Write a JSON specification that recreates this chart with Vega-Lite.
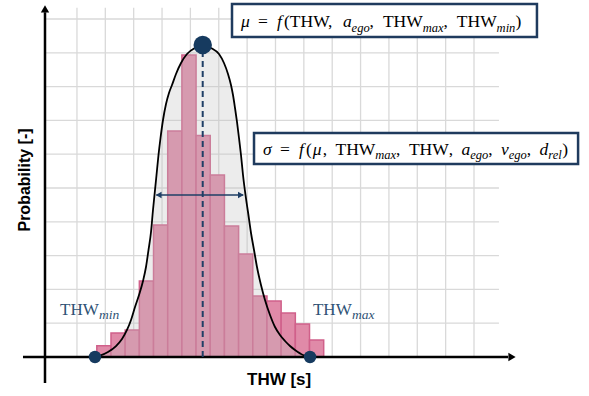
{
  "$schema": "https://vega.github.io/schema/vega-lite/v6.json",
  "width": 589,
  "height": 396,
  "padding": 0,
  "autosize": {"type": "none"},
  "background": "white",
  "config": {"view": {"stroke": null}},
  "datasets": {
    "vgrid": [{"g":1,"lo":0,"hi":10.33},{"g":2,"lo":0,"hi":10.33},{"g":3,"lo":0,"hi":10.33},{"g":4,"lo":0,"hi":10.33},{"g":5,"lo":0,"hi":10.33},{"g":6,"lo":0,"hi":10.33},{"g":7,"lo":0,"hi":10.33},{"g":8,"lo":0,"hi":10.33},{"g":9,"lo":0,"hi":10.33},{"g":10,"lo":0,"hi":10.33},{"g":11,"lo":0,"hi":10.33},{"g":12,"lo":0,"hi":10.33},{"g":13,"lo":0,"hi":10.33},{"g":14,"lo":0,"hi":10.33},{"g":15,"lo":0,"hi":10.33}],
    "hgrid": [{"g":1,"lo":-0.09,"hi":15.88},{"g":2,"lo":-0.09,"hi":15.88},{"g":3,"lo":-0.09,"hi":15.88},{"g":4,"lo":-0.09,"hi":15.88},{"g":5,"lo":-0.09,"hi":15.88},{"g":6,"lo":-0.09,"hi":15.88},{"g":7,"lo":-0.09,"hi":15.88},{"g":8,"lo":-0.09,"hi":15.88},{"g":9,"lo":-0.09,"hi":15.88},{"g":10,"lo":-0.09,"hi":15.88}],
    "hist": [
      {"lo":1.7,"hi":2.2,"p":0.334,"b":0},
      {"lo":2.2,"hi":2.7,"p":0.710,"b":0},
      {"lo":2.7,"hi":3.2,"p":0.799,"b":0},
      {"lo":3.2,"hi":3.7,"p":2.249,"b":0},
      {"lo":3.7,"hi":4.2,"p":3.905,"b":0},
      {"lo":4.2,"hi":4.7,"p":6.686,"b":0},
      {"lo":4.7,"hi":5.2,"p":8.935,"b":0},
      {"lo":5.2,"hi":5.7,"p":6.55,"b":0},
      {"lo":5.7,"hi":6.2,"p":5.385,"b":0},
      {"lo":6.2,"hi":6.7,"p":3.876,"b":0},
      {"lo":6.7,"hi":7.2,"p":3.047,"b":0},
      {"lo":7.2,"hi":7.7,"p":1.805,"b":0},
      {"lo":7.7,"hi":8.2,"p":1.657,"b":0},
      {"lo":8.2,"hi":8.7,"p":1.302,"b":0},
      {"lo":8.7,"hi":9.2,"p":0.976,"b":0},
      {"lo":9.2,"hi":9.7,"p":0.503,"b":0}
    ],
    "curve": [
      {"thw":1.107,"p":0},{"thw":1.460,"p":0.006},{"thw":1.812,"p":0.044},{"thw":2.094,"p":0.148},{"thw":2.377,"p":0.325},{"thw":2.588,"p":0.533},{"thw":2.764,"p":0.799},{"thw":2.906,"p":1.095},{"thw":3.047,"p":1.479},{"thw":3.188,"p":1.834},{"thw":3.329,"p":2.249},{"thw":3.434,"p":2.663},{"thw":3.523,"p":3.166},{"thw":3.611,"p":3.698},{"thw":3.681,"p":4.349},{"thw":3.734,"p":4.793},{"thw":3.805,"p":5.385},{"thw":3.875,"p":5.976},{"thw":3.946,"p":6.479},{"thw":4.034,"p":7.012},{"thw":4.140,"p":7.485},{"thw":4.245,"p":7.811},{"thw":4.351,"p":8.047},{"thw":4.492,"p":8.373},{"thw":4.669,"p":8.698},{"thw":4.880,"p":8.964},{"thw":5.127,"p":9.127},{"thw":5.444,"p":9.201},{"thw":5.761,"p":9.127},{"thw":6.008,"p":8.964},{"thw":6.184,"p":8.698},{"thw":6.326,"p":8.373},{"thw":6.431,"p":8.047},{"thw":6.502,"p":7.751},{"thw":6.573,"p":7.367},{"thw":6.643,"p":6.953},{"thw":6.714,"p":6.479},{"thw":6.784,"p":5.976},{"thw":6.855,"p":5.385},{"thw":6.943,"p":4.793},{"thw":7.031,"p":4.290},{"thw":7.137,"p":3.669},{"thw":7.243,"p":3.166},{"thw":7.348,"p":2.663},{"thw":7.489,"p":2.130},{"thw":7.630,"p":1.686},{"thw":7.807,"p":1.243},{"thw":7.983,"p":0.888},{"thw":8.159,"p":0.651},{"thw":8.336,"p":0.473},{"thw":8.512,"p":0.325},{"thw":8.688,"p":0.207},{"thw":8.970,"p":0.059},{"thw":9.217,"p":0.006},{"thw":9.499,"p":0}
    ],
    "axislines": [{"x0":-0.903,"x1":16.2,"y0":0,"y1":0},{"x0":-0.127,"x1":-0.127,"y0":-0.77,"y1":10.2}],
    "axisup": [{"x":-0.127,"y":10.296}],
    "axisright": [{"x":16.34,"y":0}],
    "meanline": [{"x0":5.434,"x1":5.434,"y0":0,"y1":9.2}],
    "spread": [{"x0":3.80,"x1":6.86,"y0":4.793,"y1":4.793}],
    "spreadleft": [{"x":3.88,"y":4.793}],
    "spreadright": [{"x":6.78,"y":4.793}],
    "upright": [
      {"t":"=","x":7.384,"y":9.749},{"t":"(THW,","x":8.300,"y":9.749},{"t":",","x":11.319,"y":9.749},{"t":"THW","x":11.788,"y":9.749},{"t":",","x":13.925,"y":9.749},{"t":"THW","x":14.394,"y":9.749},{"t":")","x":16.460,"y":9.749},
      {"t":"=","x":8.160,"y":5.976},{"t":"(","x":9.073,"y":5.976},{"t":",","x":9.665,"y":5.976},{"t":"THW","x":10.116,"y":5.976},{"t":",","x":12.253,"y":5.976},{"t":"THW","x":12.705,"y":5.976},{"t":",","x":14.108,"y":5.976},{"t":",","x":15.503,"y":5.976},{"t":",","x":16.862,"y":5.976},{"t":")","x":18.112,"y":5.976}
    ],
    "italic": [
      {"t":"μ","x":6.784,"y":9.749},{"t":"f","x":8.054,"y":9.749},{"t":"a","x":10.377,"y":9.749},
      {"t":"σ","x":7.560,"y":5.976},{"t":"f","x":8.826,"y":5.976},{"t":"μ","x":9.312,"y":5.976},{"t":"a","x":14.559,"y":5.976},{"t":"v","x":15.952,"y":5.976},{"t":"d","x":17.313,"y":5.976}
    ],
    "sub": [
      {"t":"ego","x":10.684,"y":9.630},{"t":"max","x":13.191,"y":9.630},{"t":"min","x":15.797,"y":9.630},
      {"t":"max","x":11.520,"y":5.858},{"t":"ego","x":14.868,"y":5.858},{"t":"ego","x":16.227,"y":5.858},{"t":"rel","x":17.622,"y":5.858}
    ],
    "labmain": [{"t":"THW","x":0.402,"y":1.243},{"t":"THW","x":9.322,"y":1.243}],
    "labsub": [{"t":"min","x":1.777,"y":1.124},{"t":"max","x":10.698,"y":1.124}],
    "ytitle": [{"t":"Probability  [-]","x":-0.832,"y":5.237}],
    "xtitle": [{"t":"THW [s]","x":8.128,"y":-0.68}],
    "dots": [{"x":5.434,"y":9.23}],
    "enddots": [{"x":1.636,"y":0},{"x":9.218,"y":0}],
    "boxes": [{"x0":6.467,"x1":17.22,"y0":9.467,"y1":10.44},{"x0":7.243,"x1":18.67,"y0":5.71,"y1":6.627}]
  },
  "layer": [
    {
      "data": {"name": "vgrid"},
      "mark": {"type": "rule", "color": "#d9d9d9", "strokeWidth": 1.3},
      "encoding": {
        "x": {"field": "g", "type": "quantitative", "scale": {"domain": [-1.7137, 19.055], "nice": false, "zero": false}, "axis": null},
        "y": {"field": "lo", "type": "quantitative", "scale": {"domain": [-1.1538, 10.562], "nice": false, "zero": false}, "axis": null},
        "y2": {"field": "hi"}
      }
    },
    {
      "data": {"name": "hgrid"},
      "mark": {"type": "rule", "color": "#d9d9d9", "strokeWidth": 1.3},
      "encoding": {
        "y": {"field": "g", "type": "quantitative", "axis": null},
        "x": {"field": "lo", "type": "quantitative", "axis": null},
        "x2": {"field": "hi"}
      }
    },
    {
      "data": {"name": "hist"},
      "mark": {"type": "rect", "fill": "#e08aa8", "stroke": "#d0608a", "strokeWidth": 1.5},
      "encoding": {
        "x": {"field": "lo", "type": "quantitative", "axis": null},
        "x2": {"field": "hi"},
        "y": {"field": "b", "type": "quantitative", "axis": null},
        "y2": {"field": "p"}
      }
    },
    {
      "data": {"name": "curve"},
      "mark": {"type": "area", "color": "#bfbfbf", "opacity": 0.3, "interpolate": "monotone"},
      "encoding": {
        "x": {"field": "thw", "type": "quantitative", "axis": null},
        "y": {"field": "p", "type": "quantitative", "axis": null}
      }
    },
    {
      "data": {"name": "curve"},
      "mark": {"type": "line", "color": "#000000", "strokeWidth": 1.8, "interpolate": "monotone"},
      "encoding": {
        "x": {"field": "thw", "type": "quantitative", "axis": null},
        "y": {"field": "p", "type": "quantitative", "axis": null}
      }
    },
    {
      "data": {"name": "axislines"},
      "mark": {"type": "rule", "color": "#000000", "strokeWidth": 2.5},
      "encoding": {
        "x": {"field": "x0", "type": "quantitative", "axis": null}, "x2": {"field": "x1"},
        "y": {"field": "y0", "type": "quantitative", "axis": null}, "y2": {"field": "y1"}
      }
    },
    {
      "data": {"name": "axisup"},
      "mark": {"type": "point", "shape": "triangle-up", "filled": true, "color": "#000000", "size": 70, "opacity": 1},
      "encoding": {"x": {"field": "x", "type": "quantitative", "axis": null}, "y": {"field": "y", "type": "quantitative", "axis": null}}
    },
    {
      "data": {"name": "axisright"},
      "mark": {"type": "point", "shape": "triangle-right", "filled": true, "color": "#000000", "size": 70, "opacity": 1},
      "encoding": {"x": {"field": "x", "type": "quantitative", "axis": null}, "y": {"field": "y", "type": "quantitative", "axis": null}}
    },
    {
      "data": {"name": "meanline"},
      "mark": {"type": "rule", "color": "#1f3f66", "strokeWidth": 2, "strokeDash": [6, 4]},
      "encoding": {
        "x": {"field": "x0", "type": "quantitative", "axis": null}, "x2": {"field": "x1"},
        "y": {"field": "y0", "type": "quantitative", "axis": null}, "y2": {"field": "y1"}
      }
    },
    {
      "data": {"name": "spread"},
      "mark": {"type": "rule", "color": "#1f3f66", "strokeWidth": 1.6},
      "encoding": {
        "x": {"field": "x0", "type": "quantitative", "axis": null}, "x2": {"field": "x1"},
        "y": {"field": "y0", "type": "quantitative", "axis": null}, "y2": {"field": "y1"}
      }
    },
    {
      "data": {"name": "spreadleft"},
      "mark": {"type": "point", "shape": "triangle-left", "filled": true, "color": "#1f3f66", "size": 45, "opacity": 1},
      "encoding": {"x": {"field": "x", "type": "quantitative", "axis": null}, "y": {"field": "y", "type": "quantitative", "axis": null}}
    },
    {
      "data": {"name": "spreadright"},
      "mark": {"type": "point", "shape": "triangle-right", "filled": true, "color": "#1f3f66", "size": 45, "opacity": 1},
      "encoding": {"x": {"field": "x", "type": "quantitative", "axis": null}, "y": {"field": "y", "type": "quantitative", "axis": null}}
    },
    {
      "data": {"name": "dots"},
      "mark": {"type": "circle", "color": "#163a5f", "size": 340, "opacity": 1},
      "encoding": {"x": {"field": "x", "type": "quantitative", "axis": null}, "y": {"field": "y", "type": "quantitative", "axis": null}}
    },
    {
      "data": {"name": "enddots"},
      "mark": {"type": "circle", "color": "#163a5f", "size": 155, "opacity": 1},
      "encoding": {"x": {"field": "x", "type": "quantitative", "axis": null}, "y": {"field": "y", "type": "quantitative", "axis": null}}
    },
    {
      "data": {"name": "boxes"},
      "mark": {"type": "rect", "fill": "#ffffff", "stroke": "#1f3b5e", "strokeWidth": 2.5},
      "encoding": {
        "x": {"field": "x0", "type": "quantitative", "axis": null}, "x2": {"field": "x1"},
        "y": {"field": "y0", "type": "quantitative", "axis": null}, "y2": {"field": "y1"}
      }
    },
    {
      "data": {"name": "upright"},
      "mark": {"type": "text", "font": "Liberation Serif", "fontSize": 17.5, "align": "left", "baseline": "alphabetic", "color": "#000000"},
      "encoding": {"x": {"field": "x", "type": "quantitative", "axis": null}, "y": {"field": "y", "type": "quantitative", "axis": null}, "text": {"field": "t", "type": "nominal"}}
    },
    {
      "data": {"name": "italic"},
      "mark": {"type": "text", "font": "Liberation Serif", "fontStyle": "italic", "fontSize": 17.5, "align": "left", "baseline": "alphabetic", "color": "#000000"},
      "encoding": {"x": {"field": "x", "type": "quantitative", "axis": null}, "y": {"field": "y", "type": "quantitative", "axis": null}, "text": {"field": "t", "type": "nominal"}}
    },
    {
      "data": {"name": "sub"},
      "mark": {"type": "text", "font": "Liberation Serif", "fontStyle": "italic", "fontSize": 12.5, "align": "left", "baseline": "alphabetic", "color": "#000000"},
      "encoding": {"x": {"field": "x", "type": "quantitative", "axis": null}, "y": {"field": "y", "type": "quantitative", "axis": null}, "text": {"field": "t", "type": "nominal"}}
    },
    {
      "data": {"name": "labmain"},
      "mark": {"type": "text", "font": "Liberation Serif", "fontSize": 17, "align": "left", "baseline": "alphabetic", "color": "#2f5275"},
      "encoding": {"x": {"field": "x", "type": "quantitative", "axis": null}, "y": {"field": "y", "type": "quantitative", "axis": null}, "text": {"field": "t", "type": "nominal"}}
    },
    {
      "data": {"name": "labsub"},
      "mark": {"type": "text", "font": "Liberation Serif", "fontStyle": "italic", "fontSize": 13.5, "align": "left", "baseline": "alphabetic", "color": "#2f5275"},
      "encoding": {"x": {"field": "x", "type": "quantitative", "axis": null}, "y": {"field": "y", "type": "quantitative", "axis": null}, "text": {"field": "t", "type": "nominal"}}
    },
    {
      "data": {"name": "ytitle"},
      "mark": {"type": "text", "font": "Liberation Sans", "fontWeight": "bold", "fontSize": 16, "angle": 270, "align": "center", "baseline": "middle", "color": "#000000"},
      "encoding": {"x": {"field": "x", "type": "quantitative", "axis": null}, "y": {"field": "y", "type": "quantitative", "axis": null}, "text": {"field": "t", "type": "nominal"}}
    },
    {
      "data": {"name": "xtitle"},
      "mark": {"type": "text", "font": "Liberation Sans", "fontWeight": "bold", "fontSize": 17, "align": "center", "baseline": "middle", "color": "#000000"},
      "encoding": {"x": {"field": "x", "type": "quantitative", "axis": null}, "y": {"field": "y", "type": "quantitative", "axis": null}, "text": {"field": "t", "type": "nominal"}}
    }
  ]
}
